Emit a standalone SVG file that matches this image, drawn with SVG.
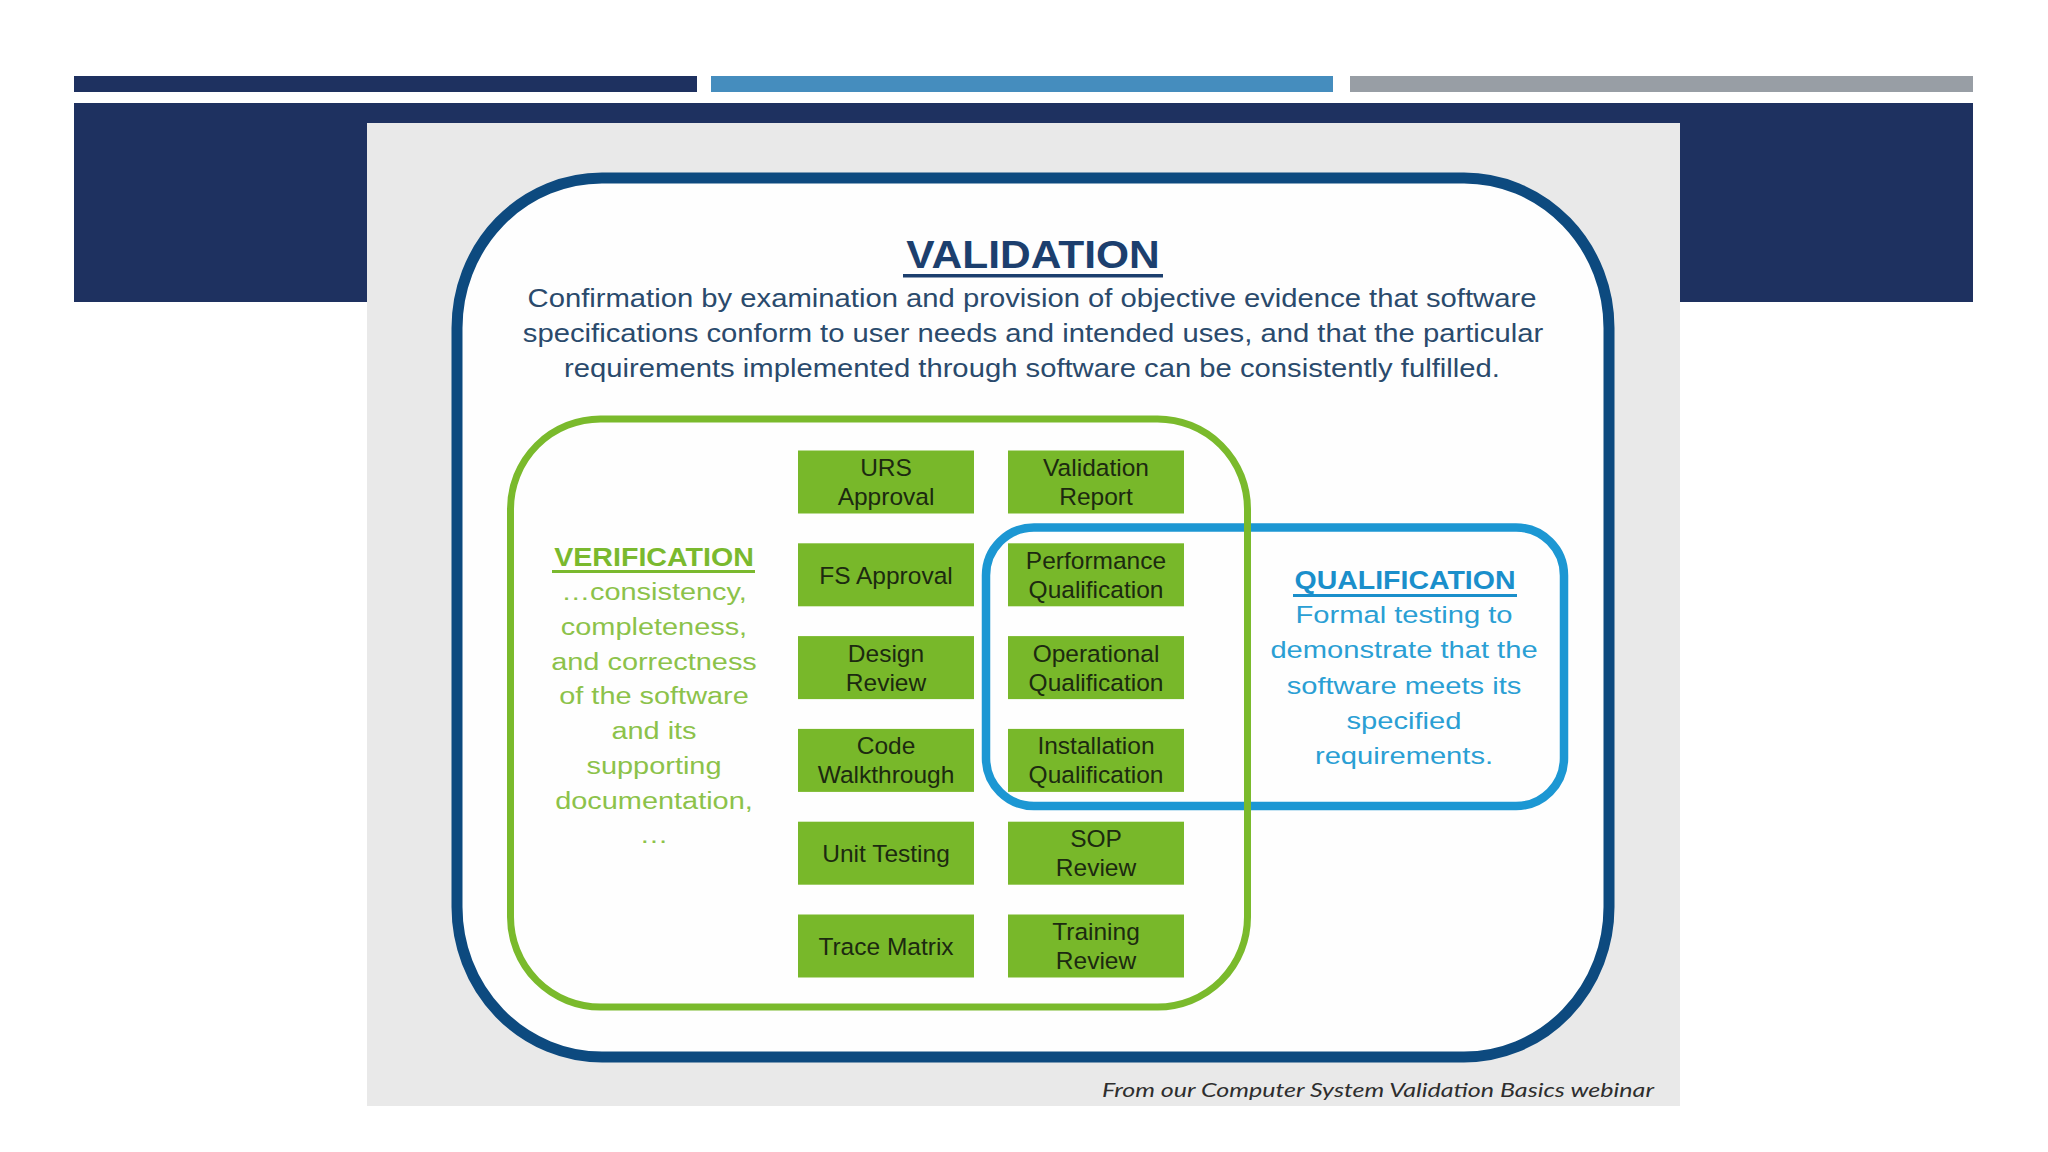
<svg xmlns="http://www.w3.org/2000/svg" width="2048" height="1152" viewBox="0 0 2048 1152">
<style>
.sans{font-family:"Liberation Sans",Arial,sans-serif}
.box{fill:#78b82a}
.lbl{font-family:"Liberation Sans",Arial,sans-serif;font-size:24.5px;fill:#1c2a10;text-anchor:middle}
.vb{font-family:"Liberation Sans",Arial,sans-serif;font-size:25px;fill:#2a4a6c;text-anchor:middle}
.gb{font-family:"Liberation Sans",Arial,sans-serif;font-size:24.5px;fill:#8cc24a;text-anchor:middle}
.qb{font-family:"Liberation Sans",Arial,sans-serif;font-size:24.5px;fill:#2a9fd4;text-anchor:middle}
</style>
<rect width="2048" height="1152" fill="#ffffff"/>
<g id="slide-frame">
<rect x="74" y="76" width="623" height="16" fill="#1e3160"/>
<rect x="711" y="76" width="622" height="16" fill="#458dbe"/>
<rect x="1350" y="76" width="623" height="16" fill="#989ea5"/>
<rect x="74" y="103" width="1899" height="199" fill="#1e3160"/>
<rect x="367" y="123" width="1313" height="983" fill="#e9e9e9"/>
</g>
<g id="node-validation">
<rect x="457" y="178" width="1152" height="879" rx="145" ry="150" fill="#fefefe" stroke="#0d4a7f" stroke-width="11"/>
<text class="sans" transform="translate(1033 268) scale(1.09 1)" text-anchor="middle" font-size="39" font-weight="bold" fill="#1c3f6e">VALIDATION</text>
<rect x="903" y="274" width="260" height="3.5" fill="#1c3f6e"/>
<text class="vb" transform="translate(1032 307) scale(1.17 1)">Confirmation by examination and provision of objective evidence that software</text>
<text class="vb" transform="translate(1033 342) scale(1.17 1)">specifications conform to user needs and intended uses, and that the particular</text>
<text class="vb" transform="translate(1032 377) scale(1.17 1)">requirements implemented through software can be consistently fulfilled.</text>
</g>
<g id="node-qualification">
<rect x="986" y="527.5" width="578" height="278.5" rx="48" fill="none" stroke="#1c97d3" stroke-width="8.5"/>
<text class="sans" transform="translate(1405 589) scale(1.14 1)" text-anchor="middle" font-size="25" font-weight="bold" fill="#1a8fcb">QUALIFICATION</text>
<rect x="1293" y="594" width="224" height="3" fill="#1a8fcb"/>
<text class="qb" transform="translate(1404 623) scale(1.19 1)">Formal testing to</text>
<text class="qb" transform="translate(1404 658) scale(1.19 1)">demonstrate that the</text>
<text class="qb" transform="translate(1404 694) scale(1.19 1)">software meets its</text>
<text class="qb" transform="translate(1404 729) scale(1.19 1)">specified</text>
<text class="qb" transform="translate(1404 764) scale(1.19 1)">requirements.</text>
</g>
<g id="node-verification">
<rect x="510.5" y="419" width="737" height="588" rx="90" fill="none" stroke="#7aba2c" stroke-width="7"/>
<text class="sans" transform="translate(654 566) scale(1.1 1)" text-anchor="middle" font-size="26" font-weight="bold" fill="#7ab92e">VERIFICATION</text>
<rect x="552" y="570" width="203" height="3" fill="#7ab92e"/>
<text class="gb" transform="translate(654 600) scale(1.18 1)">…consistency,</text>
<text class="gb" transform="translate(654 635) scale(1.18 1)">completeness,</text>
<text class="gb" transform="translate(654 670) scale(1.18 1)">and correctness</text>
<text class="gb" transform="translate(654 704) scale(1.18 1)">of the software</text>
<text class="gb" transform="translate(654 739) scale(1.18 1)">and its</text>
<text class="gb" transform="translate(654 774) scale(1.18 1)">supporting</text>
<text class="gb" transform="translate(654 809) scale(1.18 1)">documentation,</text>
<text class="gb" transform="translate(654 843) scale(1.18 1)" fill="#bccaa9">…</text>
</g>
<g id="node-urs"><rect class="box" x="798" y="450.5" width="176" height="63"/><text class="lbl" x="886" y="476">URS</text><text class="lbl" x="886" y="505">Approval</text></g>
<g id="node-fs"><rect class="box" x="798" y="543.3" width="176" height="63"/><text class="lbl" x="886" y="583.5">FS Approval</text></g>
<g id="node-design"><rect class="box" x="798" y="636.1" width="176" height="63"/><text class="lbl" x="886" y="661.6">Design</text><text class="lbl" x="886" y="690.6">Review</text></g>
<g id="node-code"><rect class="box" x="798" y="728.9" width="176" height="63"/><text class="lbl" x="886" y="754.4">Code</text><text class="lbl" x="886" y="783.4">Walkthrough</text></g>
<g id="node-unit"><rect class="box" x="798" y="821.7" width="176" height="63"/><text class="lbl" x="886" y="861.9">Unit Testing</text></g>
<g id="node-trace"><rect class="box" x="798" y="914.5" width="176" height="63"/><text class="lbl" x="886" y="954.7">Trace Matrix</text></g>
<g id="node-valreport"><rect class="box" x="1008" y="450.5" width="176" height="63"/><text class="lbl" x="1096" y="476">Validation</text><text class="lbl" x="1096" y="505">Report</text></g>
<g id="node-pq"><rect class="box" x="1008" y="543.3" width="176" height="63"/><text class="lbl" x="1096" y="568.8">Performance</text><text class="lbl" x="1096" y="597.8">Qualification</text></g>
<g id="node-oq"><rect class="box" x="1008" y="636.1" width="176" height="63"/><text class="lbl" x="1096" y="661.6">Operational</text><text class="lbl" x="1096" y="690.6">Qualification</text></g>
<g id="node-iq"><rect class="box" x="1008" y="728.9" width="176" height="63"/><text class="lbl" x="1096" y="754.4">Installation</text><text class="lbl" x="1096" y="783.4">Qualification</text></g>
<g id="node-sop"><rect class="box" x="1008" y="821.7" width="176" height="63"/><text class="lbl" x="1096" y="847.2">SOP</text><text class="lbl" x="1096" y="876.2">Review</text></g>
<g id="node-training"><rect class="box" x="1008" y="914.5" width="176" height="63"/><text class="lbl" x="1096" y="940">Training</text><text class="lbl" x="1096" y="969">Review</text></g>
<g id="connectors"></g>
<text x="1102" y="1097" font-family="Lato,'Open Sans',sans-serif" font-style="italic" font-size="19.5" fill="#2e2e2e" textLength="552" lengthAdjust="spacingAndGlyphs">From our Computer System Validation Basics webinar</text>
</svg>
